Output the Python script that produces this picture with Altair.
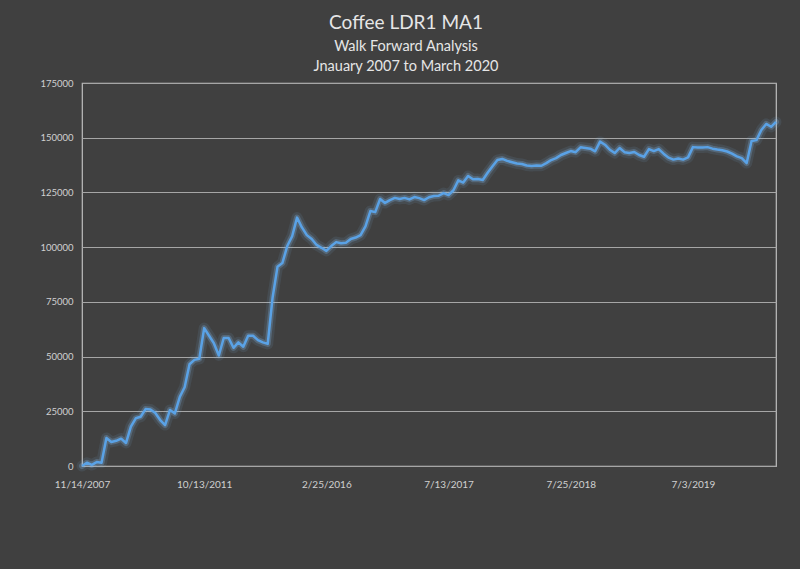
import altair as alt
import pandas as pd

equity = [
    0, 1500, 500, 1800, 1500, 12800, 11000, 11500, 12500, 10500,
    18000, 21800, 22500, 26000, 25800, 24200, 21000, 18700, 25600, 24000,
    31500, 36000, 46500, 48500, 49000, 63000, 59500, 56000, 50500, 58500,
    58500, 54000, 56500, 54500, 59500, 59500, 57500, 56500, 55800, 77000,
    91000, 92700, 100500, 105000, 113500, 109000, 105500, 103700, 101000, 99700,
    98300, 100500, 102300, 101800, 102000, 103700, 104400, 105500, 109500, 116500,
    116000, 122000, 120200, 121500, 122500, 122000, 122500, 121800, 122900, 122400,
    121500, 122800, 123400, 123500, 124700, 123800, 126000, 130500, 129500, 132500,
    131000, 131100, 130700, 134000, 137000, 139800, 140300, 139400, 138800, 138200,
    138000, 137300, 137100, 137300, 137200, 138400, 139800, 140700, 142100, 143000,
    143900, 143400, 145600, 145300, 145000, 143800, 148200, 146800, 144500, 143000,
    145300, 143400, 143000, 143500, 142100, 141300, 144800, 143900, 144800, 142700,
    140900, 140000, 140500, 140000, 141000, 145700, 145500, 145500, 145700, 145000,
    144600, 144300, 143700, 142700, 141500, 140700, 138400, 148500, 148900, 153500,
    156300, 155000, 157200,
]
tick_positions = [0, 25, 50, 75, 100, 125]
tick_labels = ["11/14/2007", "10/13/2011", "2/25/2016", "7/13/2017", "7/25/2018", "7/3/2019"]
y_ticks = [0, 25000, 50000, 75000, 100000, 125000, 150000, 175000]

df = pd.DataFrame({"idx": list(range(len(equity))), "equity": equity})

label_expr = " : ".join(
    f"datum.value == {p} ? '{l}'" for p, l in zip(tick_positions, tick_labels)
) + " : ''"

FONT = "Lato"
TXT = "#d0d0d0"

base = alt.Chart(df).encode(
    x=alt.X(
        "idx:Q",
        scale=alt.Scale(domain=[0, len(equity) - 1], nice=False, zero=False),
        axis=alt.Axis(
            values=tick_positions, labelExpr=label_expr, title=None, grid=False,
            ticks=False, domain=False, labelColor=TXT, labelFont=FONT,
            labelFontSize=10, labelPadding=13, labelFlush=False,
        ),
    ),
    y=alt.Y(
        "equity:Q",
        scale=alt.Scale(domain=[0, 175000], nice=False),
        axis=alt.Axis(
            values=y_ticks, format="d", title=None, grid=True, gridColor="#a6a6a6",
            gridWidth=1, ticks=False, domain=False, labelColor=TXT, labelFont=FONT,
            labelFontSize=9.5, labelPadding=9,
        ),
    ),
)

glow_outer = base.mark_line(color="#7db8f0", strokeWidth=11, opacity=0.10, strokeJoin="round", strokeCap="round")
glow_inner = base.mark_line(color="#86bdf0", strokeWidth=6, opacity=0.25, strokeJoin="round", strokeCap="round")
core = base.mark_line(color="#5aa2e6", strokeWidth=2.5, strokeJoin="round")

chart = (
    alt.layer(glow_outer, glow_inner, core)
    .properties(
        width=694,
        height=383,
        background="#404040",
        autosize=alt.AutoSizeParams(type="none"),
        padding={"left": 82, "top": 83, "right": 24, "bottom": 103},
        title=alt.TitleParams(
            text="Coffee LDR1 MA1",
            subtitle=["Walk Forward Analysis", "Jnauary 2007 to March 2020"],
            anchor="middle",
            dx=-23,
            offset=5,
            font=FONT,
            fontSize=19,
            fontWeight="normal",
            color="#e6e6e6",
            subtitleFont=FONT,
            subtitleFontSize=14.5,
            subtitleColor="#e6e6e6",
            subtitleLineHeight=20,
            subtitlePadding=7,
        ),
    )
    .configure_view(stroke="#bfbfbf", strokeWidth=1.2)
)

chart.save("out.html", embed_options={"renderer": "svg", "actions": False})
